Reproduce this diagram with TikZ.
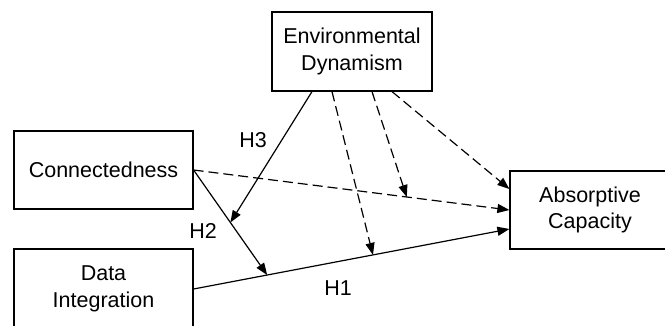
\documentclass[tikz,border=0pt]{standalone}
\usepackage{fontspec}
\setmainfont{Liberation Sans}
\usetikzlibrary{arrows.meta,calc}
\begin{document}
\begin{tikzpicture}[x=1pt,y=-1pt,
  box/.style={draw, line width=1.2pt, align=center, inner sep=0pt,
    font=\fontsize{21.5}{26.5}\selectfont},
  lbl/.style={font=\fontsize{21.5}{24}\selectfont, inner sep=0pt},
  arr/.style={line width=1.2pt, -{Triangle[length=12pt,width=9pt]}},
  dsh/.style={arr, dash pattern=on 10pt off 5pt}]
\useasboundingbox (0,0) rectangle (665,326);
\node[box, minimum width=160pt, minimum height=79pt] (env) at (352,51.5) {Environmental\\Dynamism};
\node[box, minimum width=179pt, minimum height=78pt] (conn) at (103.5,170) {Connectedness};
\node[box, minimum width=179pt, minimum height=80pt] (data) at (103.5,289) {Data\\Integration};
\node[box, minimum width=160pt, minimum height=78pt] (abs) at (590,210) {Absorptive\\Capacity};
\coordinate (absA) at ($(abs.west)+(0,-21)$);
\coordinate (absC) at ($(abs.west)+(0,19)$);
\coordinate (h1mid) at ($(data.east)!0.233!(absC)$);
\coordinate (h1dash) at ($(data.east)!0.568!(absC)$);
\coordinate (h2mid) at ($(conn.east)!0.5!(h1mid)$);
\coordinate (cdash) at ($(conn.east)!0.675!(abs.west)$);
\draw[arr] (data.east) -- (absC);
\draw[arr] (conn.east) -- (h1mid);
\draw[arr] ($(env.south)+(-40,0)$) -- (h2mid);
\draw[dsh] (conn.east) -- (abs.west);
\draw[dsh] ($(env.south)+(-20,0)$) -- (h1dash);
\draw[dsh] ($(env.south)+(20,0)$) -- (cdash);
\draw[dsh] ($(env.south)+(40,0)$) -- (absA);
\node[lbl] (h3) at (253,140) {H3};
\node[lbl] (h2) at (203,231) {H2};
\node[lbl] (h1) at (338,288) {H1};
\end{tikzpicture}
\end{document}
